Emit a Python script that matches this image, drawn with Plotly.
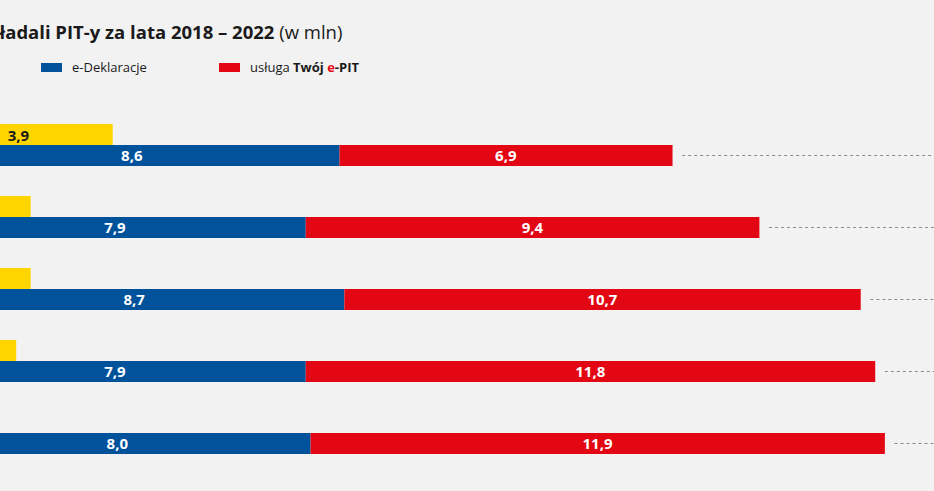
import plotly.graph_objects as go

years = ["2018", "2019", "2020", "2021", "2022"]
inne = [3.9, 2.2, 2.2, 1.9, 1.5]
e_deklaracje = [8.6, 7.9, 8.7, 7.9, 8.0]
twoj_epit = [6.9, 9.4, 10.7, 11.8, 11.9]

def fmt(v):
    return f"{v:.1f}".replace(".", ",")

W, H = 934, 491
BG = "#f2f2f2"
BLUE = "#00529b"
RED = "#e30613"
YELLOW = "#ffd500"
FONT = "Open Sans"

totals = [a + b for a, b in zip(e_deklaracje, twoj_epit)]

fig = go.Figure()
fig.add_trace(go.Bar(
    y=years, x=inne, orientation="h", offsetgroup="a", name="inne",
    marker=dict(color=YELLOW, line=dict(width=0)),
    text=[fmt(v) for v in inne], textposition="inside", insidetextanchor="middle",
    textfont=dict(family=FONT, size=15, color="#1a1a1a", weight=700),
    constraintext="none", showlegend=False,
))
fig.add_trace(go.Bar(
    y=years, x=e_deklaracje, orientation="h", offsetgroup="b", name="e-Deklaracje",
    marker=dict(color=BLUE, line=dict(width=0)),
    text=[fmt(v) for v in e_deklaracje], textposition="inside", insidetextanchor="middle",
    textfont=dict(family=FONT, size=15, color="white", weight=700),
    constraintext="none", showlegend=False,
))
fig.add_trace(go.Bar(
    y=years, x=twoj_epit, base=e_deklaracje, orientation="h", offsetgroup="b",
    name="usługa Twój e-PIT",
    marker=dict(color=RED, line=dict(width=0)),
    text=[fmt(v) for v in twoj_epit], textposition="inside", insidetextanchor="middle",
    textfont=dict(family=FONT, size=15, color="white", weight=700),
    constraintext="none", showlegend=False,
))

bargap = 0.417
half = (1 - bargap) / 4
for i, t in enumerate(totals):
    fig.add_shape(type="line", xref="x", yref="y",
                  x0=t + 0.2, x1=30, y0=i + half, y1=i + half,
                  line=dict(color="#8a8a8a", width=1, dash="dot"))

# plot area geometry (pixels)
top, bottom = 109, 469
ph = bottom - top

def px_x(p):
    return p / W

def px_y(p):
    return (bottom - p) / ph

# title
fig.add_annotation(
    xref="paper", yref="paper", x=px_x(344), y=px_y(31), xanchor="right", yanchor="middle",
    text="<b>Tak Polacy składali PIT-y za lata 2018 – 2022</b> (w mln)",
    showarrow=False, font=dict(family=FONT, size=18.5, color="#1a1a1a"),
)
# legend
fig.add_shape(type="rect", xref="paper", yref="paper",
              x0=px_x(41), x1=px_x(62), y0=px_y(72), y1=px_y(63),
              fillcolor=BLUE, line=dict(width=0))
fig.add_annotation(xref="paper", yref="paper", x=px_x(70), y=px_y(67.5),
                   xanchor="left", yanchor="middle", showarrow=False,
                   text="e-Deklaracje", font=dict(family=FONT, size=13, color="#1a1a1a"))
fig.add_shape(type="rect", xref="paper", yref="paper",
              x0=px_x(219), x1=px_x(240), y0=px_y(72), y1=px_y(63),
              fillcolor=RED, line=dict(width=0))
fig.add_annotation(xref="paper", yref="paper", x=px_x(248), y=px_y(67.5),
                   xanchor="left", yanchor="middle", showarrow=False,
                   text="usługa <b>Twój </b><b><span style='color:#e30613'>e</span>-PIT</b>",
                   font=dict(family=FONT, size=13, color="#1a1a1a"))

x_left = 75.5 / 48.26
x_right = (W + 75.5) / 48.26

fig.update_layout(
    width=W, height=H, template="none",
    paper_bgcolor=BG, plot_bgcolor=BG,
    margin=dict(l=0, r=0, t=top, b=H - bottom, pad=0),
    barmode="group", bargap=bargap, bargroupgap=0,
    xaxis=dict(range=[x_left, x_right], showgrid=False, zeroline=False,
               showticklabels=False, ticks="", showline=False, automargin=False),
    yaxis=dict(type="category", autorange="reversed", showgrid=False, zeroline=False,
               showticklabels=False, ticks="", showline=False, automargin=False),
    uniformtext=dict(mode=False),
)

fig.write_html("out.html", config={"displayModeBar": False},
               post_script="document.body.style.margin='0';")
